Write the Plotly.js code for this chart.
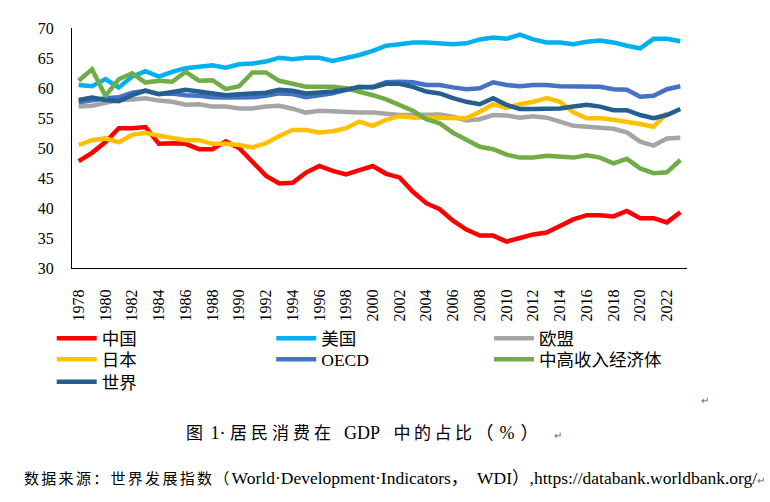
<!DOCTYPE html>
<html>
<head>
<meta charset="utf-8">
<script src="https://cdn.plot.ly/plotly-3.0.1.min.js"></script>
<style>
  html, body { margin: 0; padding: 0; background: #fff; }
  #chart { width: 770px; height: 502px; }
</style>
</head>
<body>
<div id="chart"></div>
<script>
(() => {
    "use strict";

    const years = [];
    for (let y = 1978; y <= 2023; y++) years.push(y);

    const china = [47.8, 49.2, 51.0, 53.3, 53.3, 53.5, 50.7, 50.8, 50.7, 49.8,
        49.8, 51.1, 50.0, 47.8, 45.4, 44.1, 44.2, 45.9, 47.0, 46.2,
        45.6, 46.3, 47.0, 45.7, 45.1, 42.7, 40.8, 39.8, 37.9, 36.4,
        35.4, 35.4, 34.4, 35.0, 35.6, 35.9, 37.0, 38.1, 38.8, 38.8,
        38.6, 39.5, 38.3, 38.3, 37.6, 39.3];
    const usa = [60.5, 60.3, 61.5, 60.1, 61.9, 62.8, 61.9, 62.7, 63.3, 63.55,
        63.8, 63.4, 63.95, 64.1, 64.4, 65.05, 64.8, 65.05, 65.05, 64.5,
        64.95, 65.5, 66.2, 67.05, 67.3, 67.6, 67.6, 67.45, 67.3, 67.45,
        68.1, 68.4, 68.2, 68.9, 68.1, 67.6, 67.6, 67.3, 67.7, 67.9,
        67.6, 67.05, 66.6, 68.2, 68.2, 67.8];
    const eu = [56.9, 57.05, 57.55, 58.0, 58.1, 58.3, 57.9, 57.7, 57.2, 57.3,
        56.9, 56.9, 56.6, 56.6, 56.9, 57.05, 56.55, 55.9, 56.2, 56.05,
        55.9, 55.9, 55.9, 55.7, 55.5, 55.5, 55.5, 55.6, 55.2, 54.6,
        54.8, 55.5, 55.4, 55.05, 55.3, 55.05, 54.4, 53.7, 53.55, 53.4,
        53.2, 52.6, 51.05, 50.4, 51.6, 51.7];
    const japan = [50.5, 51.3, 51.6, 50.95, 52.2, 52.55, 52.05, 51.7, 51.3, 51.3,
        50.7, 50.7, 50.5, 50.1, 50.8, 52.0, 53.0, 53.0, 52.6, 52.8,
        53.3, 54.4, 53.7, 54.7, 55.3, 55.1, 55.1, 55.1, 54.95, 54.95,
        56.05, 57.3, 56.7, 57.3, 57.7, 58.3, 57.7, 55.95, 54.95, 54.95,
        54.7, 54.4, 54.0, 53.55, 55.8, null];
    const oecd = [57.6, 58.0, 58.3, 58.45, 59.2, 59.55, 59.0, 59.1, 58.8, 58.7,
        58.45, 58.4, 58.45, 58.45, 58.7, 59.1, 59.0, 58.45, 58.8, 59.1,
        59.7, 60.1, 60.2, 60.95, 61.05, 60.95, 60.5, 60.5, 60.1, 59.8,
        59.95, 60.95, 60.5, 60.3, 60.5, 60.5, 60.3, 60.3, 60.3, 60.2,
        59.8, 59.7, 58.55, 58.7, 59.8, 60.3];
    const upperMiddle = [61.2, 63.1, 58.7, 61.45, 62.45, 60.9, 61.2, 61.05, 62.7, 61.2,
        61.3, 59.8, 60.3, 62.6, 62.6, 61.2, 60.7, 60.2, 60.2, 60.2,
        59.95, 59.4, 58.8, 58.1, 57.2, 56.2, 54.8, 54.1, 52.55, 51.3,
        50.2, 49.8, 48.9, 48.4, 48.4, 48.7, 48.6, 48.4, 48.8, 48.4,
        47.45, 48.2, 46.6, 45.8, 45.95, 48.0];
    const world = [58.0, 58.4, 58.0, 57.8, 58.8, 59.55, 58.95, 59.3, 59.7, 59.4,
        59.1, 58.8, 58.95, 59.0, 59.2, 59.7, 59.55, 59.1, 59.2, 59.4,
        59.7, 60.2, 60.1, 60.7, 60.7, 60.2, 59.4, 59.1, 58.3, 57.7,
        57.3, 58.3, 57.2, 56.5, 56.5, 56.5, 56.6, 56.9, 57.2, 56.9,
        56.3, 56.3, 55.5, 54.95, 55.5, 56.5];

    const serif = "'Liberation Serif', 'Noto Sans CJK SC', serif";

    // Excel-style legend: 3 columns, row-major
    const legendCols = [-0.033, 0.324, 0.678];
    const legendRows = [-0.2183, -0.3058, -0.3992];

    const series = [
        { name: "中国", y: china, color: "#FF0000" },
        { name: "美国", y: usa, color: "#00B0F0" },
        { name: "欧盟", y: eu, color: "#A5A5A5" },
        { name: "日本", y: japan, color: "#FFC000" },
        { name: "OECD", y: oecd, color: "#4472C4" },
        { name: "中高收入经济体", y: upperMiddle, color: "#70AD47" },
        { name: "世界", y: world, color: "#255E91" },
    ];

    const legendId = (i) => (i === 0 ? "legend" : "legend" + (i + 1));

    const traces = series.map((s, i) => ({
        type: "scatter",
        mode: "lines",
        x: years,
        y: s.y,
        name: s.name,
        legend: legendId(i),
        line: { color: s.color, width: 4.5 },
        hoverinfo: "skip",
    }));

    const layout = {
        width: 770,
        height: 502,
        margin: { l: 72, r: 83, t: 28, b: 234 },
        paper_bgcolor: "#fff",
        plot_bgcolor: "#fff",
        font: { family: serif, color: "#000" },
        showlegend: true,
        xaxis: {
            type: "linear",
            range: [1977.5, 2023.5],
            tick0: 1978,
            dtick: 2,
            tickangle: -90,
            ticks: "",
            showgrid: false,
            zeroline: false,
            showline: true,
            linecolor: "#000",
            linewidth: 1,
            ticklabelstandoff: 14,
            tickfont: { family: serif, size: 16, color: "#000" },
            fixedrange: true,
        },
        yaxis: {
            range: [30, 70],
            dtick: 5,
            ticks: "",
            showgrid: false,
            zeroline: false,
            showline: true,
            linecolor: "#000",
            linewidth: 1,
            ticklabelstandoff: 14,
            tickfont: { family: serif, size: 16, color: "#000" },
            fixedrange: true,
        },
        annotations: [
            {
                xref: "paper", yref: "paper", x: 0.182, y: -0.6875,
                xanchor: "left", yanchor: "middle", showarrow: false,
                text: "<span style=\"font-size:17px;letter-spacing:3px\">图</span> 1·\u00A0" +
                    "<span style=\"font-size:17px;letter-spacing:4px\">居民消费在</span>\u00A0\u00A0GDP\u00A0\u00A0\u00A0" +
                    "<span style=\"font-size:17px;letter-spacing:3.5px\">中的占比</span>" +
                    "<span style=\"font-size:18px;letter-spacing:6px\">（%）</span>\u00A0\u00A0" +
                    "<span style=\"font-size:10px;color:#666\">↵</span>",
                font: { family: serif, size: 18, color: "#000" },
            },
            {
                xref: "paper", yref: "paper", x: 1.029, y: -0.554,
                xanchor: "center", yanchor: "middle", showarrow: false,
                text: "↵", font: { family: serif, size: 10, color: "#666" },
            },
            {
                xref: "paper", yref: "paper", x: -0.0813, y: -0.875,
                xanchor: "left", yanchor: "middle", showarrow: false,
                text: "<span style=\"font-size:15px;letter-spacing:2.3px\">数据来源：世界发展指数（</span>" +
                    "World·Development·Indicators，\u00A0\u00A0WDI）,https://databank.worldbank.org/" +
                    "<span style=\"font-size:10px;color:#666\">↵</span>",
                font: { family: serif, size: 17.5, color: "#000" },
            },
        ],
    };

    series.forEach((s, i) => {
        layout[legendId(i)] = {
            x: legendCols[i % 3],
            y: legendRows[Math.floor(i / 3)],
            xanchor: "left",
            yanchor: "top",
            orientation: "v",
            bgcolor: "rgba(0,0,0,0)",
            borderwidth: 0,
            itemwidth: 40,
            font: { family: serif, size: 17.5, color: "#000" },
        };
    });

    Plotly.newPlot("chart", traces, layout, { displayModeBar: false, staticPlot: true });
})();
</script>
</body>
</html>
